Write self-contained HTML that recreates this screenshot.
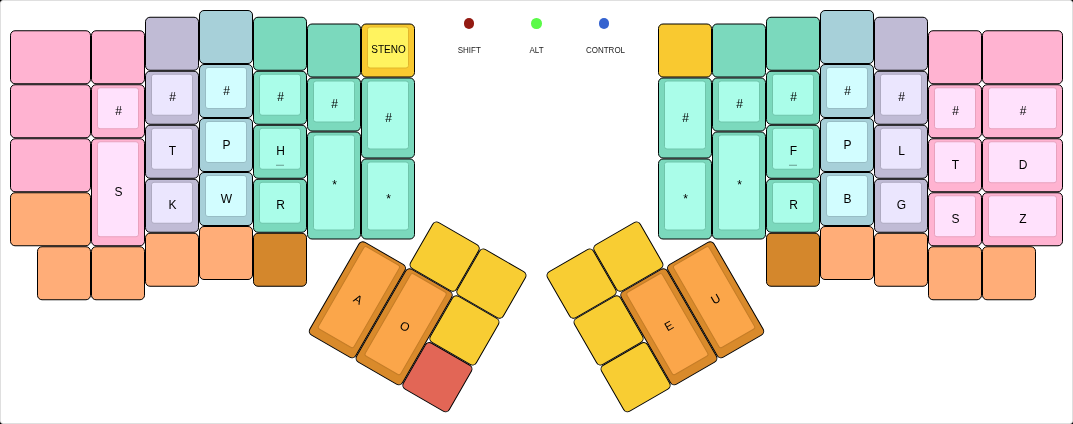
<!DOCTYPE html>
<html><head><meta charset="utf-8"><style>
html,body{margin:0;padding:0;background:#000;width:1073px;height:424px;overflow:hidden}
body{position:relative;font-family:"Liberation Sans",sans-serif}
.l{transform:translateZ(0)}
.g .l{transform:none}
.led{transform:translateZ(0) scaleY(1.2)}
#kb{position:absolute;left:0;top:0;width:1073px;height:424px;box-sizing:border-box;border:1px solid #dfdfdf;border-radius:3px;background:#fff}
.k,.t,.l,.n{position:absolute;box-sizing:border-box}
.k{border:1px solid #000;border-radius:5px}
.t{border:1px solid rgba(0,0,0,0.1);border-radius:3px}
.l{display:flex;align-items:center;justify-content:center;font-size:12px;color:#000;line-height:1}
.n{width:8px;height:1px;background:rgba(0,0,0,0.2)}
.g{position:absolute;left:0;top:0;width:0;height:0}
.dot{position:absolute;width:10.5px;height:10.5px;border-radius:50%}
.led{position:absolute;font-size:8px;color:#222;width:54px;text-align:center;line-height:10px;height:10px}
</style></head><body>
<div id="kb"></div>

<svg width="1073" height="424" style="position:absolute;left:0;top:0">
<rect x="10.5" y="30.75" width="80" height="53" rx="4.5" fill="#ffb3d1" stroke="#000"/>
<rect x="91.5" y="30.75" width="53" height="53" rx="4.5" fill="#ffb3d1" stroke="#000"/>
<rect x="10.5" y="84.75" width="80" height="53" rx="4.5" fill="#ffb3d1" stroke="#000"/>
<rect x="91.5" y="84.75" width="53" height="53" rx="4.5" fill="#ffb3d1" stroke="#000"/>
<rect x="97.5" y="87.75" width="41" height="41" rx="2.5" fill="#ffe1fc" stroke="#e8a2be"/>
<rect x="10.5" y="138.75" width="80" height="53" rx="4.5" fill="#ffb3d1" stroke="#000"/>
<rect x="91.5" y="138.75" width="53" height="107" rx="4.5" fill="#ffb3d1" stroke="#000"/>
<rect x="97.5" y="141.75" width="41" height="95" rx="2.5" fill="#ffe1fc" stroke="#e8a2be"/>
<rect x="10.5" y="192.75" width="80" height="53" rx="4.5" fill="#ffad78" stroke="#000"/>
<rect x="37.5" y="246.75" width="53" height="53" rx="4.5" fill="#ffad78" stroke="#000"/>
<rect x="91.5" y="246.75" width="53" height="53" rx="4.5" fill="#ffad78" stroke="#000"/>
<rect x="145.5" y="17.25" width="53" height="53" rx="4.5" fill="#c0bbd5" stroke="#000"/>
<rect x="145.5" y="71.25" width="53" height="53" rx="4.5" fill="#c0bbd5" stroke="#000"/>
<rect x="151.5" y="74.25" width="41" height="41" rx="2.5" fill="#ebe6fe" stroke="#aeaac1"/>
<rect x="145.5" y="125.25" width="53" height="53" rx="4.5" fill="#c0bbd5" stroke="#000"/>
<rect x="151.5" y="128.25" width="41" height="41" rx="2.5" fill="#ebe6fe" stroke="#aeaac1"/>
<rect x="145.5" y="179.25" width="53" height="53" rx="4.5" fill="#c0bbd5" stroke="#000"/>
<rect x="151.5" y="182.25" width="41" height="41" rx="2.5" fill="#ebe6fe" stroke="#aeaac1"/>
<rect x="145.5" y="233.25" width="53" height="53" rx="4.5" fill="#ffad78" stroke="#000"/>
<rect x="199.5" y="10.5" width="53" height="53" rx="4.5" fill="#a7d0d9" stroke="#000"/>
<rect x="199.5" y="64.5" width="53" height="53" rx="4.5" fill="#a7d0d9" stroke="#000"/>
<rect x="205.5" y="67.5" width="41" height="41" rx="2.5" fill="#d2fdff" stroke="#97bdc5"/>
<rect x="199.5" y="118.5" width="53" height="53" rx="4.5" fill="#a7d0d9" stroke="#000"/>
<rect x="205.5" y="121.5" width="41" height="41" rx="2.5" fill="#d2fdff" stroke="#97bdc5"/>
<rect x="199.5" y="172.5" width="53" height="53" rx="4.5" fill="#a7d0d9" stroke="#000"/>
<rect x="205.5" y="175.5" width="41" height="41" rx="2.5" fill="#d2fdff" stroke="#97bdc5"/>
<rect x="199.5" y="226.5" width="53" height="53" rx="4.5" fill="#ffad78" stroke="#000"/>
<rect x="253.5" y="17.25" width="53" height="53" rx="4.5" fill="#7bd9bd" stroke="#000"/>
<rect x="253.5" y="71.25" width="53" height="53" rx="4.5" fill="#7bd9bd" stroke="#000"/>
<rect x="259.5" y="74.25" width="41" height="41" rx="2.5" fill="#aafde9" stroke="#6fc5ab"/>
<rect x="253.5" y="125.25" width="53" height="53" rx="4.5" fill="#7bd9bd" stroke="#000"/>
<rect x="259.5" y="128.25" width="41" height="41" rx="2.5" fill="#aafde9" stroke="#6fc5ab"/>
<rect x="276" y="164.75" width="8" height="1" fill="rgba(0,0,0,0.38)" stroke="none"/>
<rect x="253.5" y="179.25" width="53" height="53" rx="4.5" fill="#7bd9bd" stroke="#000"/>
<rect x="259.5" y="182.25" width="41" height="41" rx="2.5" fill="#aafde9" stroke="#6fc5ab"/>
<rect x="253.5" y="233.25" width="53" height="53" rx="4.5" fill="#d4872c" stroke="#000"/>
<rect x="307.5" y="24" width="53" height="53" rx="4.5" fill="#7bd9bd" stroke="#000"/>
<rect x="307.5" y="78" width="53" height="53" rx="4.5" fill="#7bd9bd" stroke="#000"/>
<rect x="313.5" y="81" width="41" height="41" rx="2.5" fill="#aafde9" stroke="#6fc5ab"/>
<rect x="307.5" y="132" width="53" height="107" rx="4.5" fill="#7bd9bd" stroke="#000"/>
<rect x="313.5" y="135" width="41" height="95" rx="2.5" fill="#aafde9" stroke="#6fc5ab"/>
<rect x="361.5" y="24" width="53" height="53" rx="4.5" fill="#f9c930" stroke="#000"/>
<rect x="367.5" y="27" width="41" height="41" rx="2.5" fill="#fff35f" stroke="#e2b62b"/>
<rect x="361.5" y="78" width="53" height="80" rx="4.5" fill="#7bd9bd" stroke="#000"/>
<rect x="367.5" y="81" width="41" height="68" rx="2.5" fill="#aafde9" stroke="#6fc5ab"/>
<rect x="361.5" y="159" width="53" height="80" rx="4.5" fill="#7bd9bd" stroke="#000"/>
<rect x="367.5" y="162" width="41" height="68" rx="2.5" fill="#aafde9" stroke="#6fc5ab"/>
<rect x="658.5" y="24" width="53" height="53" rx="4.5" fill="#f9c930" stroke="#000"/>
<rect x="658.5" y="78" width="53" height="80" rx="4.5" fill="#7bd9bd" stroke="#000"/>
<rect x="664.5" y="81" width="41" height="68" rx="2.5" fill="#aafde9" stroke="#6fc5ab"/>
<rect x="658.5" y="159" width="53" height="80" rx="4.5" fill="#7bd9bd" stroke="#000"/>
<rect x="664.5" y="162" width="41" height="68" rx="2.5" fill="#aafde9" stroke="#6fc5ab"/>
<rect x="712.5" y="24" width="53" height="53" rx="4.5" fill="#7bd9bd" stroke="#000"/>
<rect x="712.5" y="78" width="53" height="53" rx="4.5" fill="#7bd9bd" stroke="#000"/>
<rect x="718.5" y="81" width="41" height="41" rx="2.5" fill="#aafde9" stroke="#6fc5ab"/>
<rect x="712.5" y="132" width="53" height="107" rx="4.5" fill="#7bd9bd" stroke="#000"/>
<rect x="718.5" y="135" width="41" height="95" rx="2.5" fill="#aafde9" stroke="#6fc5ab"/>
<rect x="766.5" y="17.25" width="53" height="53" rx="4.5" fill="#7bd9bd" stroke="#000"/>
<rect x="766.5" y="71.25" width="53" height="53" rx="4.5" fill="#7bd9bd" stroke="#000"/>
<rect x="772.5" y="74.25" width="41" height="41" rx="2.5" fill="#aafde9" stroke="#6fc5ab"/>
<rect x="766.5" y="125.25" width="53" height="53" rx="4.5" fill="#7bd9bd" stroke="#000"/>
<rect x="772.5" y="128.25" width="41" height="41" rx="2.5" fill="#aafde9" stroke="#6fc5ab"/>
<rect x="789" y="164.75" width="8" height="1" fill="rgba(0,0,0,0.38)" stroke="none"/>
<rect x="766.5" y="179.25" width="53" height="53" rx="4.5" fill="#7bd9bd" stroke="#000"/>
<rect x="772.5" y="182.25" width="41" height="41" rx="2.5" fill="#aafde9" stroke="#6fc5ab"/>
<rect x="766.5" y="233.25" width="53" height="53" rx="4.5" fill="#d4872c" stroke="#000"/>
<rect x="820.5" y="10.5" width="53" height="53" rx="4.5" fill="#a7d0d9" stroke="#000"/>
<rect x="820.5" y="64.5" width="53" height="53" rx="4.5" fill="#a7d0d9" stroke="#000"/>
<rect x="826.5" y="67.5" width="41" height="41" rx="2.5" fill="#d2fdff" stroke="#97bdc5"/>
<rect x="820.5" y="118.5" width="53" height="53" rx="4.5" fill="#a7d0d9" stroke="#000"/>
<rect x="826.5" y="121.5" width="41" height="41" rx="2.5" fill="#d2fdff" stroke="#97bdc5"/>
<rect x="820.5" y="172.5" width="53" height="53" rx="4.5" fill="#a7d0d9" stroke="#000"/>
<rect x="826.5" y="175.5" width="41" height="41" rx="2.5" fill="#d2fdff" stroke="#97bdc5"/>
<rect x="820.5" y="226.5" width="53" height="53" rx="4.5" fill="#ffad78" stroke="#000"/>
<rect x="874.5" y="17.25" width="53" height="53" rx="4.5" fill="#c0bbd5" stroke="#000"/>
<rect x="874.5" y="71.25" width="53" height="53" rx="4.5" fill="#c0bbd5" stroke="#000"/>
<rect x="880.5" y="74.25" width="41" height="41" rx="2.5" fill="#ebe6fe" stroke="#aeaac1"/>
<rect x="874.5" y="125.25" width="53" height="53" rx="4.5" fill="#c0bbd5" stroke="#000"/>
<rect x="880.5" y="128.25" width="41" height="41" rx="2.5" fill="#ebe6fe" stroke="#aeaac1"/>
<rect x="874.5" y="179.25" width="53" height="53" rx="4.5" fill="#c0bbd5" stroke="#000"/>
<rect x="880.5" y="182.25" width="41" height="41" rx="2.5" fill="#ebe6fe" stroke="#aeaac1"/>
<rect x="874.5" y="233.25" width="53" height="53" rx="4.5" fill="#ffad78" stroke="#000"/>
<rect x="928.5" y="30.75" width="53" height="53" rx="4.5" fill="#ffb3d1" stroke="#000"/>
<rect x="928.5" y="84.75" width="53" height="53" rx="4.5" fill="#ffb3d1" stroke="#000"/>
<rect x="934.5" y="87.75" width="41" height="41" rx="2.5" fill="#ffe1fc" stroke="#e8a2be"/>
<rect x="928.5" y="138.75" width="53" height="53" rx="4.5" fill="#ffb3d1" stroke="#000"/>
<rect x="934.5" y="141.75" width="41" height="41" rx="2.5" fill="#ffe1fc" stroke="#e8a2be"/>
<rect x="928.5" y="192.75" width="53" height="53" rx="4.5" fill="#ffb3d1" stroke="#000"/>
<rect x="934.5" y="195.75" width="41" height="41" rx="2.5" fill="#ffe1fc" stroke="#e8a2be"/>
<rect x="928.5" y="246.75" width="53" height="53" rx="4.5" fill="#ffad78" stroke="#000"/>
<rect x="982.5" y="30.75" width="80" height="53" rx="4.5" fill="#ffb3d1" stroke="#000"/>
<rect x="982.5" y="84.75" width="80" height="53" rx="4.5" fill="#ffb3d1" stroke="#000"/>
<rect x="988.5" y="87.75" width="68" height="41" rx="2.5" fill="#ffe1fc" stroke="#e8a2be"/>
<rect x="982.5" y="138.75" width="80" height="53" rx="4.5" fill="#ffb3d1" stroke="#000"/>
<rect x="988.5" y="141.75" width="68" height="41" rx="2.5" fill="#ffe1fc" stroke="#e8a2be"/>
<rect x="982.5" y="192.75" width="80" height="53" rx="4.5" fill="#ffb3d1" stroke="#000"/>
<rect x="988.5" y="195.75" width="68" height="41" rx="2.5" fill="#ffe1fc" stroke="#e8a2be"/>
<rect x="982.5" y="246.75" width="53" height="53" rx="4.5" fill="#ffad78" stroke="#000"/>
<g transform="rotate(30 361 239.5)">
<rect x="415.5" y="186" width="53" height="53" rx="4.5" fill="#f8cd33" stroke="#000"/>
<rect x="469.5" y="186" width="53" height="53" rx="4.5" fill="#f8cd33" stroke="#000"/>
<rect x="361.5" y="240" width="53" height="107" rx="4.5" fill="#d98a2b" stroke="#000"/>
<rect x="367.5" y="243" width="41" height="95" rx="2.5" fill="#fba64a" stroke="#c57d27"/>
<rect x="415.5" y="240" width="53" height="107" rx="4.5" fill="#d98a2b" stroke="#000"/>
<rect x="421.5" y="243" width="41" height="95" rx="2.5" fill="#fba64a" stroke="#c57d27"/>
<rect x="469.5" y="240" width="53" height="53" rx="4.5" fill="#f8cd33" stroke="#000"/>
<rect x="469.5" y="294" width="53" height="53" rx="4.5" fill="#e26656" stroke="#000"/>
</g>
<g transform="rotate(-30 712 239.5)">
<rect x="550.5" y="186" width="53" height="53" rx="4.5" fill="#f8cd33" stroke="#000"/>
<rect x="604.5" y="186" width="53" height="53" rx="4.5" fill="#f8cd33" stroke="#000"/>
<rect x="550.5" y="240" width="53" height="53" rx="4.5" fill="#f8cd33" stroke="#000"/>
<rect x="604.5" y="240" width="53" height="107" rx="4.5" fill="#d98a2b" stroke="#000"/>
<rect x="610.5" y="243" width="41" height="95" rx="2.5" fill="#fba64a" stroke="#c57d27"/>
<rect x="658.5" y="240" width="53" height="107" rx="4.5" fill="#d98a2b" stroke="#000"/>
<rect x="664.5" y="243" width="41" height="95" rx="2.5" fill="#fba64a" stroke="#c57d27"/>
<rect x="550.5" y="294" width="53" height="53" rx="4.5" fill="#f8cd33" stroke="#000"/>
</g>
</svg>



<div class="l" style="left:97.5px;top:89.75px;width:42px;height:42px">#</div>

<div class="l" style="left:97.5px;top:143.75px;width:42px;height:96px">S</div>




<div class="l" style="left:151.5px;top:76.25px;width:42px;height:42px">#</div>
<div class="l" style="left:151.5px;top:130.25px;width:42px;height:42px">T</div>
<div class="l" style="left:151.5px;top:184.25px;width:42px;height:42px">K</div>


<div class="l" style="left:205.5px;top:69.5px;width:42px;height:42px">#</div>
<div class="l" style="left:205.5px;top:123.5px;width:42px;height:42px">P</div>
<div class="l" style="left:205.5px;top:177.5px;width:42px;height:42px">W</div>


<div class="l" style="left:259.5px;top:76.25px;width:42px;height:42px">#</div>
<div class="l" style="left:259.5px;top:130.25px;width:42px;height:42px">H</div>
<div class="l" style="left:259.5px;top:184.25px;width:42px;height:42px">R</div>


<div class="l" style="left:313.5px;top:83px;width:42px;height:42px">#</div>
<div class="l" style="left:313.5px;top:137px;width:42px;height:96px">*</div>
<div class="l" style="left:367.5px;top:29px;width:42px;height:42px;font-size:10px">STENO</div>
<div class="l" style="left:367.5px;top:83px;width:42px;height:69px">#</div>
<div class="l" style="left:367.5px;top:164px;width:42px;height:69px">*</div>

<div class="l" style="left:664.5px;top:83px;width:42px;height:69px">#</div>
<div class="l" style="left:664.5px;top:164px;width:42px;height:69px">*</div>

<div class="l" style="left:718.5px;top:83px;width:42px;height:42px">#</div>
<div class="l" style="left:718.5px;top:137px;width:42px;height:96px">*</div>

<div class="l" style="left:772.5px;top:76.25px;width:42px;height:42px">#</div>
<div class="l" style="left:772.5px;top:130.25px;width:42px;height:42px">F</div>
<div class="l" style="left:772.5px;top:184.25px;width:42px;height:42px">R</div>


<div class="l" style="left:826.5px;top:69.5px;width:42px;height:42px">#</div>
<div class="l" style="left:826.5px;top:123.5px;width:42px;height:42px">P</div>
<div class="l" style="left:826.5px;top:177.5px;width:42px;height:42px">B</div>


<div class="l" style="left:880.5px;top:76.25px;width:42px;height:42px">#</div>
<div class="l" style="left:880.5px;top:130.25px;width:42px;height:42px">L</div>
<div class="l" style="left:880.5px;top:184.25px;width:42px;height:42px">G</div>


<div class="l" style="left:934.5px;top:89.75px;width:42px;height:42px">#</div>
<div class="l" style="left:934.5px;top:143.75px;width:42px;height:42px">T</div>
<div class="l" style="left:934.5px;top:197.75px;width:42px;height:42px">S</div>


<div class="l" style="left:988.5px;top:89.75px;width:69px;height:42px">#</div>
<div class="l" style="left:988.5px;top:143.75px;width:69px;height:42px">D</div>
<div class="l" style="left:988.5px;top:197.75px;width:69px;height:42px">Z</div>

<div class="dot" style="left:463.75px;top:18.35px;background:#931a12"></div>
<div class="led" style="left:442.3px;top:46.2px">SHIFT</div>
<div class="dot" style="left:531.25px;top:18.35px;background:#5afa48"></div>
<div class="led" style="left:509.5px;top:46.2px">ALT</div>
<div class="dot" style="left:598.75px;top:18.35px;background:#3563d0"></div>
<div class="led" style="left:578.5px;top:46.2px">CONTROL</div>
<div class="g" style="transform-origin:361px 239.5px;transform:rotate(30deg);width:1073px;height:424px">


<div class="l" style="left:367.5px;top:245px;width:42px;height:96px">A</div>
<div class="l" style="left:421.5px;top:245px;width:42px;height:96px">O</div>


</div>
<div class="g" style="transform-origin:712px 239.5px;transform:rotate(-30deg);width:1073px;height:424px">



<div class="l" style="left:610.5px;top:245px;width:42px;height:96px">E</div>
<div class="l" style="left:664.5px;top:245px;width:42px;height:96px">U</div>

</div>
</body></html>
